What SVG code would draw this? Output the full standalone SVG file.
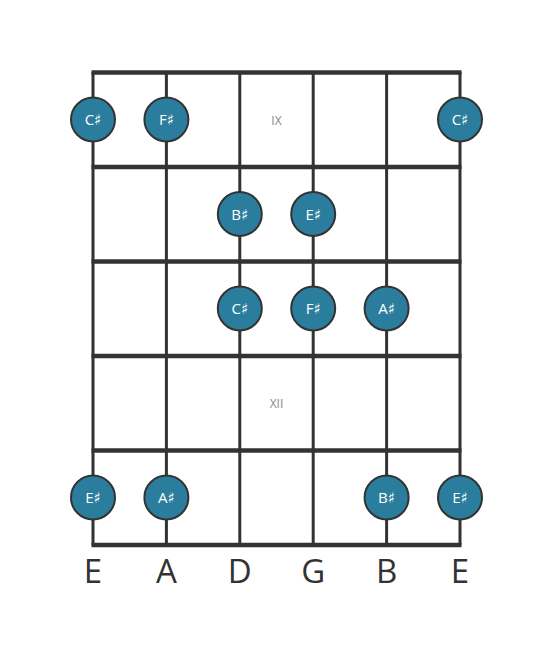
<svg xmlns="http://www.w3.org/2000/svg" width="553" height="656" viewBox="0 0 553 656">
<style>
.fret{stroke:#333;stroke-width:4.5;fill:none}
.str{stroke:#333;stroke-width:3;fill:none}
.note circle{fill:#2a7d9c;stroke:#333;stroke-width:2}
.note text{fill:#fff;font-family:"Open Sans","DejaVu Sans",sans-serif;font-size:15px;text-anchor:middle}
.fl{fill:#888;font-family:"Open Sans",sans-serif;font-size:12px;text-anchor:middle}
.sl{fill:#333;font-family:"Open Sans",sans-serif;font-size:33px;text-anchor:middle}
</style>
<rect width="553" height="656" fill="#fff"/>
<g id="connectors">
<line class="str" x1="93" y1="72" x2="93" y2="545"/>
<line class="str" x1="166.4" y1="72" x2="166.4" y2="545"/>
<line class="str" x1="239.8" y1="72" x2="239.8" y2="545"/>
<line class="str" x1="313.2" y1="72" x2="313.2" y2="545"/>
<line class="str" x1="386.6" y1="72" x2="386.6" y2="545"/>
<line class="str" x1="460" y1="72" x2="460" y2="545"/>
<line class="fret" x1="91.5" y1="72.5" x2="461.5" y2="72.5"/>
<line class="fret" x1="91.5" y1="167" x2="461.5" y2="167"/>
<line class="fret" x1="91.5" y1="261.5" x2="461.5" y2="261.5"/>
<line class="fret" x1="91.5" y1="356" x2="461.5" y2="356"/>
<line class="fret" x1="91.5" y1="450.5" x2="461.5" y2="450.5"/>
<line class="fret" x1="91.5" y1="545" x2="461.5" y2="545"/>
</g>
<text class="fl" x="276.5" y="125">IX</text>
<text class="fl" x="276.5" y="408">XII</text>
<g id="n1" class="note"><circle cx="93" cy="119.5" r="22"/><text x="93" y="125">C♯</text></g>
<g id="n2" class="note"><circle cx="166.4" cy="119.5" r="22"/><text x="166.4" y="125">F♯</text></g>
<g id="n3" class="note"><circle cx="460" cy="119.5" r="22"/><text x="460" y="125">C♯</text></g>
<g id="n4" class="note"><circle cx="239.8" cy="214" r="22"/><text x="239.8" y="219.5">B♯</text></g>
<g id="n5" class="note"><circle cx="313.2" cy="214" r="22"/><text x="313.2" y="219.5">E♯</text></g>
<g id="n6" class="note"><circle cx="239.8" cy="308.5" r="22"/><text x="239.8" y="314">C♯</text></g>
<g id="n7" class="note"><circle cx="313.2" cy="308.5" r="22"/><text x="313.2" y="314">F♯</text></g>
<g id="n8" class="note"><circle cx="386.6" cy="308.5" r="22"/><text x="386.6" y="314">A♯</text></g>
<g id="n9" class="note"><circle cx="93" cy="497.5" r="22"/><text x="93" y="503">E♯</text></g>
<g id="n10" class="note"><circle cx="166.4" cy="497.5" r="22"/><text x="166.4" y="503">A♯</text></g>
<g id="n11" class="note"><circle cx="386.6" cy="497.5" r="22"/><text x="386.6" y="503">B♯</text></g>
<g id="n12" class="note"><circle cx="460" cy="497.5" r="22"/><text x="460" y="503">E♯</text></g>
<text class="sl" x="93" y="583">E</text>
<text class="sl" x="166.4" y="583">A</text>
<text class="sl" x="239.8" y="583">D</text>
<text class="sl" x="313.2" y="583">G</text>
<text class="sl" x="386.6" y="583">B</text>
<text class="sl" x="460" y="583">E</text>
</svg>
